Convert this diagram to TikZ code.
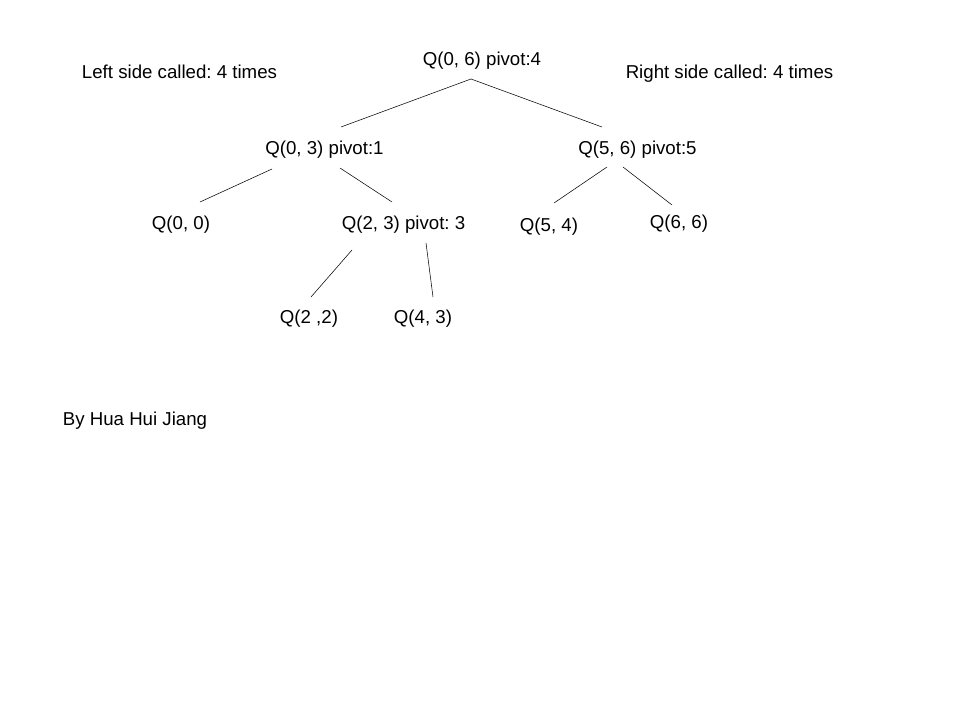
\documentclass[tikz,border=0pt]{standalone}
\usepackage{fontspec}
\setmainfont{Liberation Sans}
\usetikzlibrary{positioning}
\frenchspacing

\begin{document}
\begin{tikzpicture}[x=0.75pt, y=-0.75pt,
                    every node/.style={anchor=base, inner sep=0pt, font=\fontsize{14}{16}\selectfont}]
                        \useasboundingbox (0, 0) rectangle (960, 720);

                        \node (q06) at (482, 66) {Q(0, 6) pivot:4};
                        \node (left) at (179.5, 79) {Left side called: 4 times};
                        \node (right) at (729.5, 78.5) {Right side called: 4 times};
                        \node (q03) at (324.5, 155) {Q(0, 3) pivot:1};
                        \node (q56) at (637.5, 154.5) {Q(5, 6) pivot:5};
                        \node (q00) at (181, 230) {Q(0, 0)};
                        \node (q23) at (403.5, 230) {Q(2, 3) pivot: 3};
                        \node (q54) at (549, 232) {Q(5, 4)};
                        \node (q66) at (679, 229) {Q(6, 6)};
                        \node (q22) at (309, 324) {Q(2 ,2)};
                        \node (q43) at (423, 324) {Q(4, 3)};
                        \node (by) at (135, 425) {By Hua Hui Jiang};

                        % loose ends of the branches
                        \coordinate (q06-b) at (471, 79);
                        \coordinate (q03-t) at (341, 127);
                        \coordinate (q56-t) at (602, 127);
                        \coordinate (q03-bl) at (272, 169);
                        \coordinate (q03-br) at (340, 168);
                        \coordinate (q00-t) at (200, 202);
                        \coordinate (q23-t) at (392, 202);
                        \coordinate (q56-bl) at (607, 167);
                        \coordinate (q56-br) at (623, 167);
                        \coordinate (q54-t) at (554, 203);
                        \coordinate (q66-t) at (672, 205);
                        \coordinate (q23-bl) at (352, 250);
                        \coordinate (q23-br) at (426, 243);
                        \coordinate (q22-t) at (311, 297);
                        \coordinate (q43-t) at (433, 297);

                        \draw
                        (q06-b) edge (q03-t)
                        (q06-b) edge (q56-t)
                        (q03-bl) edge (q00-t)
                        (q03-br) edge (q23-t)
                        (q56-bl) edge (q54-t)
                        (q56-br) edge (q66-t)
                        (q23-bl) edge (q22-t)
                        (q23-br) edge (q43-t);
                    \end{tikzpicture}
\end{document}
